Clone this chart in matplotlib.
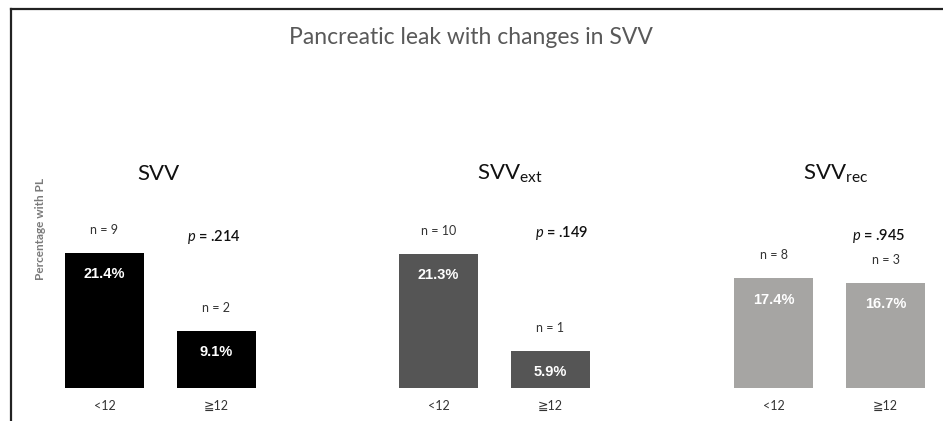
import matplotlib
matplotlib.use('Agg')
import matplotlib.pyplot as plt
from matplotlib.lines import Line2D

plt.rcParams['font.family'] = ['Lato', 'DejaVu Sans']
plt.rcParams['mathtext.fontset'] = 'custom'
plt.rcParams['mathtext.rm'] = 'Lato'
plt.rcParams['mathtext.it'] = 'Lato:italic'

# data
panels = ['SVV', r'SVV$_{\mathrm{ext}}$', r'SVV$_{\mathrm{rec}}$']
groups = ['<12', '\u2267' + '12']
pct = [[21.4, 9.1], [21.3, 5.9], [17.4, 16.7]]
n_vals = [[9, 2], [10, 1], [8, 3]]
p_vals = ['.214', '.149', '.945']
colors = ['#000000', '#555555', '#a6a5a3']

W, H = 943, 421
fig = plt.figure(figsize=(W / 100, H / 100), dpi=100)
ax = fig.add_axes([0, 0, 1, 1])
ppu = 6.31  # pixels per percent
base = 33    # baseline, px from bottom
ax.set_xlim(0, W)
ax.set_ylim(-base / ppu, (H - base) / ppu)
ax.axis('off')

def fx(px):
    return px / W

def fy(py):
    return 1 - py / H

# layout (pixels)
panel_left = [65, 399, 734]
bar_w = 79
bar_gap = 33
title_x = [158, 510, 836]
p_pos = [(214, 237), (562, 233), (879, 236)]

for i in range(3):
    for j in range(2):
        left = panel_left[i] + j * (bar_w + bar_gap)
        cx = left + bar_w / 2
        v = pct[i][j]
        ax.bar(cx, v, width=bar_w, color=colors[i])
        ax.text(cx, v - 3.4, f'{v}%', color='white', ha='center', va='center',
                fontsize=10.5, fontweight='bold', family='Liberation Sans')
        ax.text(cx, v + 3.6, f'n = {n_vals[i][j]}', color='#333333',
                ha='center', va='center', fontsize=9)
        fig.text(fx(cx), fy(406), groups[j], color='#333333', ha='center',
                 va='center', fontsize=9)
    fig.text(fx(title_x[i]), fy(174), panels[i], ha='center', va='center',
             fontsize=16, color='#111111')
    px, py = p_pos[i]
    fig.text(fx(px), fy(py), r'$\it{p}$' + f' = {p_vals[i]}', ha='center',
             va='center', fontsize=10.5, color='#111111', fontweight='semibold')

fig.text(fx(471), fy(38), 'Pancreatic leak with changes in SVV', ha='center',
         va='center', fontsize=16.5, color='#595959')
fig.text(fx(40), fy(229), 'Percentage with PL', rotation=90, ha='center',
         va='center', fontsize=8.5, fontweight='bold', color='#7a7a7a')

# frame
fig.add_artist(Line2D([fx(11), fx(11)], [0, fy(9)], color='#222222', lw=1.6))
fig.add_artist(Line2D([fx(11), 1], [fy(9), fy(9)], color='#222222', lw=1.6))

fig.savefig('out.png', dpi=100, facecolor='white')
